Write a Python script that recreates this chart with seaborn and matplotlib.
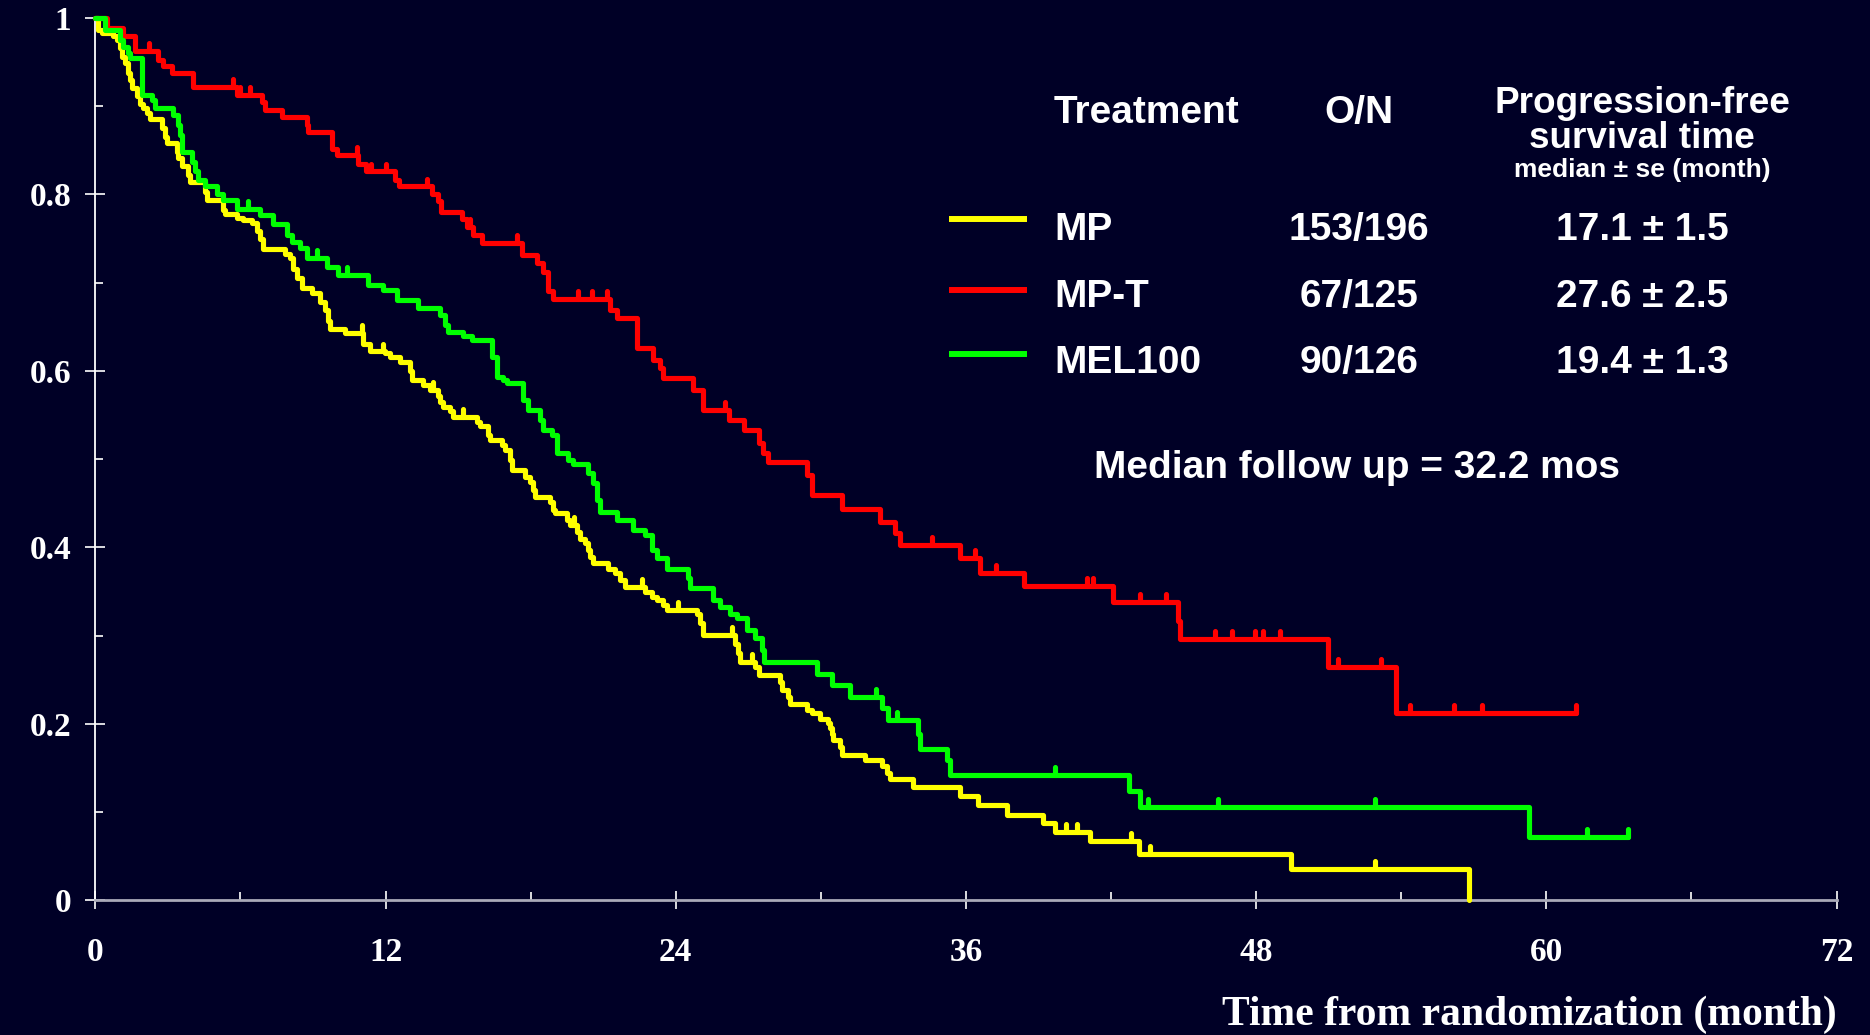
import numpy as np
import pandas as pd
import matplotlib
matplotlib.use("Agg")
import matplotlib.pyplot as plt
import seaborn as sns
from matplotlib.lines import Line2D
from matplotlib.ticker import MultipleLocator, FixedLocator, FixedFormatter

# ---- data -----------------------------------------------------------------
arms = ["MP", "MP-T", "MEL100"]
arm_colors = ["#ffff00", "#ff0000", "#00ff00"]
events_over_n = ["153/196", "67/125", "90/126"]
median_se = ["17.1 ± 1.5", "27.6 ± 2.5", "19.4 ± 1.3"]

# Kaplan-Meier steps: (month, survival after the step)
mp_steps = [
    (0, 1.0), (0.12, 0.986), (0.26, 0.983), (0.74, 0.979), (0.88, 0.975),
    (1.02, 0.966), (1.09, 0.956), (1.22, 0.949), (1.36, 0.937), (1.43, 0.930),
    (1.5, 0.920), (1.71, 0.911), (1.84, 0.903), (1.98, 0.898), (2.12, 0.892),
    (2.26, 0.885), (2.74, 0.875), (2.88, 0.865), (2.95, 0.858), (3.36, 0.848),
    (3.43, 0.841), (3.57, 0.832), (3.84, 0.822), (3.91, 0.814), (4.53, 0.803),
    (4.6, 0.794), (5.29, 0.782), (5.36, 0.778), (5.84, 0.773), (6.12, 0.771),
    (6.46, 0.768), (6.67, 0.758), (6.81, 0.750), (6.94, 0.738), (7.84, 0.733),
    (8.05, 0.728), (8.18, 0.716), (8.32, 0.705), (8.53, 0.694), (8.95, 0.688),
    (9.29, 0.678), (9.5, 0.669), (9.63, 0.656), (9.7, 0.648), (10.32, 0.643),
    (11.08, 0.631), (11.36, 0.622), (11.98, 0.620), (12.18, 0.616), (12.6, 0.610),
    (13.01, 0.600), (13.08, 0.590), (13.56, 0.584), (13.84, 0.578), (14.18, 0.572),
    (14.25, 0.565), (14.39, 0.559), (14.66, 0.554), (14.8, 0.548), (15.77, 0.542),
    (15.9, 0.537), (16.25, 0.527), (16.32, 0.522), (16.8, 0.516), (16.94, 0.510),
    (17.15, 0.499), (17.22, 0.488), (17.77, 0.480), (17.97, 0.474), (18.11, 0.465),
    (18.18, 0.457), (18.8, 0.452), (18.94, 0.442), (19.01, 0.439), (19.49, 0.431),
    (19.63, 0.425), (19.9, 0.418), (20.04, 0.410), (20.25, 0.405), (20.39, 0.397),
    (20.45, 0.389), (20.59, 0.382), (21.21, 0.376), (21.49, 0.371), (21.7, 0.363),
    (21.9, 0.355), (22.73, 0.350), (23.0, 0.344), (23.21, 0.340), (23.49, 0.335),
    (23.63, 0.329), (24.87, 0.325), (25.0, 0.314), (25.14, 0.301), (26.45, 0.291),
    (26.59, 0.280), (26.66, 0.270), (27.28, 0.265), (27.42, 0.255), (28.31, 0.248),
    (28.38, 0.238), (28.66, 0.231), (28.73, 0.223), (29.42, 0.216), (29.62, 0.212),
    (29.97, 0.206), (30.31, 0.201), (30.38, 0.195), (30.45, 0.189), (30.52, 0.182),
    (30.79, 0.174), (30.86, 0.165), (31.83, 0.159), (32.52, 0.152), (32.73, 0.144),
    (32.86, 0.138), (33.8, 0.128), (35.75, 0.118), (36.5, 0.108), (37.7, 0.097),
    (39.2, 0.088), (39.7, 0.078), (41.14, 0.067), (43.15, 0.053), (49.42, 0.036),
    (56.78, 0.0),
]
mpt_steps = [
    (0, 1.0), (0.5, 0.988), (1.15, 0.979), (1.64, 0.962), (2.6, 0.952),
    (2.81, 0.945), (3.15, 0.937), (4.05, 0.922), (5.84, 0.913), (6.88, 0.905),
    (7.01, 0.896), (7.7, 0.888), (8.74, 0.879), (8.8, 0.871), (9.77, 0.852),
    (10.0, 0.845), (10.85, 0.835), (11.2, 0.826), (12.39, 0.816), (12.55, 0.809),
    (13.9, 0.800), (14.18, 0.792), (14.3, 0.780), (15.15, 0.772), (15.35, 0.763),
    (15.6, 0.754), (15.97, 0.745), (17.63, 0.731), (18.25, 0.722), (18.52, 0.712),
    (18.73, 0.690), (18.94, 0.682), (21.28, 0.669), (21.56, 0.660), (22.39, 0.626),
    (23.07, 0.612), (23.35, 0.603), (23.49, 0.592), (24.73, 0.578), (25.14, 0.556),
    (26.18, 0.544), (26.8, 0.533), (27.42, 0.518), (27.62, 0.507), (27.8, 0.497),
    (29.42, 0.482), (29.62, 0.459), (30.86, 0.444), (32.45, 0.429), (33.07, 0.416),
    (33.28, 0.403), (35.76, 0.388), (36.58, 0.371), (38.38, 0.356), (42.09, 0.338),
    (44.78, 0.317), (44.86, 0.296), (50.96, 0.265), (53.8, 0.212), (61.24, 0.212),
]
mel_steps = [
    (0, 1.0), (0.4, 0.986), (1.02, 0.975), (1.15, 0.967), (1.36, 0.960),
    (1.43, 0.954), (1.91, 0.913), (2.33, 0.907), (2.47, 0.898), (3.22, 0.890),
    (3.43, 0.879), (3.5, 0.867), (3.57, 0.848), (3.98, 0.837), (4.12, 0.826),
    (4.26, 0.816), (4.53, 0.809), (5.02, 0.801), (5.29, 0.794), (5.84, 0.784),
    (6.81, 0.777), (7.36, 0.767), (7.91, 0.754), (8.12, 0.746), (8.46, 0.739),
    (8.74, 0.728), (9.57, 0.718), (10.05, 0.709), (11.29, 0.697), (11.91, 0.692),
    (12.46, 0.680), (13.36, 0.671), (14.25, 0.663), (14.46, 0.652), (14.6, 0.644),
    (15.21, 0.639), (15.56, 0.635), (16.39, 0.616), (16.6, 0.593), (16.87, 0.590),
    (17.01, 0.586), (17.7, 0.567), (17.9, 0.556), (18.39, 0.544), (18.52, 0.533),
    (18.87, 0.527), (19.08, 0.507), (19.56, 0.499), (19.76, 0.495), (20.38, 0.484),
    (20.59, 0.473), (20.73, 0.454), (20.87, 0.440), (21.56, 0.431), (22.25, 0.420),
    (22.73, 0.414), (23.0, 0.397), (23.21, 0.388), (23.63, 0.376), (24.52, 0.365),
    (24.59, 0.354), (25.55, 0.340), (25.83, 0.333), (26.25, 0.325), (26.52, 0.320),
    (26.94, 0.306), (27.28, 0.297), (27.56, 0.284), (27.63, 0.270), (29.83, 0.257),
    (30.45, 0.244), (31.21, 0.231), (32.52, 0.218), (32.79, 0.204), (34.03, 0.189),
    (34.1, 0.172), (35.21, 0.159), (35.34, 0.142), (42.73, 0.124), (43.2, 0.106),
    (59.27, 0.0715), (63.38, 0.0715),
]

# censored observations (month)
mp_censored = [11.01, 11.91, 13.95, 15.22, 19.77, 22.59, 24.11, 26.31, 27.14,
               40.14, 40.59, 42.83, 43.6, 52.93]
mpt_censored = [2.2, 5.7, 6.0, 6.4, 10.8, 11.4, 12.0, 13.7, 15.5, 17.42, 19.97,
                20.52, 21.15, 26.04, 34.59, 36.38, 37.25, 41.0, 41.27, 43.2,
                44.27, 46.3, 47.0, 47.94, 48.3, 48.99, 51.38, 53.18, 54.35,
                56.17, 57.32, 61.24]
mel_censored = [6.32, 9.15, 10.39, 32.28, 33.14, 39.66, 43.52, 46.41, 52.93,
                61.68, 63.38]

x_ticks = [0, 12, 24, 36, 48, 60, 72]
y_ticks = [0, 0.2, 0.4, 0.6, 0.8, 1.0]
y_tick_labels = ["0", "0.2", "0.4", "0.6", "0.8", "1"]

# ---- styling --------------------------------------------------------------
BG = "#000026"
W, H = 1870, 1035
SERIF = ["Liberation Serif", "DejaVu Serif"]
SANS = ["Liberation Sans", "DejaVu Sans"]

sns.set_style("dark")
plt.rcParams["font.family"] = SANS


def fx(px):
    return px / W


def fy(py):
    return 1 - py / H


step_sets = [mp_steps, mpt_steps, mel_steps]
censor_sets = [mp_censored, mpt_censored, mel_censored]

frames = []
for arm, steps in zip(arms, step_sets):
    frames.append(pd.DataFrame({"arm": arm,
                                "month": [p[0] for p in steps],
                                "surv": [p[1] for p in steps]}))
df = pd.concat(frames, ignore_index=True)

fig = plt.figure(figsize=(W / 100, H / 100), dpi=100, facecolor=BG)
ax = fig.add_axes([fx(95.4), 1 - 900.4 / H, fx(1836.6 - 95.4), 882.5 / H])
ax.set_facecolor(BG)

LW = 3.7
sns.lineplot(data=df, x="month", y="surv", hue="arm", hue_order=arms,
             palette=dict(zip(arms, arm_colors)), drawstyle="steps-post",
             estimator=None, linewidth=LW, legend=False, ax=ax, clip_on=False,
             zorder=3)

# censor marks: short vertical ticks sitting on each curve
for steps, cens, color in zip(step_sets, censor_sets, arm_colors):
    ts = np.array([p[0] for p in steps])
    ss = np.array([p[1] for p in steps])
    c = np.asarray(cens)
    idx = np.searchsorted(ts, c, side="right") - 1
    s_at = ss[idx]
    ax.vlines(c, s_at, s_at + 0.009, colors=color, linewidth=LW,
              capstyle="round", zorder=3, clip_on=False)

ax.set_xlim(0, 72)
ax.set_ylim(0, 1)
ax.set_xlabel("")
ax.set_ylabel("")
ax.grid(False)

ax.xaxis.set_major_locator(FixedLocator(x_ticks))
ax.xaxis.set_minor_locator(MultipleLocator(6))
ax.yaxis.set_major_locator(FixedLocator(y_ticks))
ax.yaxis.set_major_formatter(FixedFormatter(y_tick_labels))
ax.yaxis.set_minor_locator(MultipleLocator(0.1))

for side in ("top", "right"):
    ax.spines[side].set_visible(False)
ax.spines["left"].set_color("white")
ax.spines["left"].set_linewidth(1.3)
ax.spines["bottom"].set_color("#a9a9b8")
ax.spines["bottom"].set_linewidth(2.0)

ax.tick_params(which="both", bottom=True, left=True, top=False, right=False)
ax.tick_params(axis="x", which="major", direction="inout", length=12.5,
               width=1.2, color="white", pad=20, labelcolor="white")
ax.tick_params(axis="y", which="major", direction="inout", length=15,
               width=1.2, color="white", pad=10, labelcolor="white")
ax.tick_params(which="minor", direction="in", length=6, width=1.2,
               color="white")
for lab in ax.get_xticklabels() + ax.get_yticklabels():
    lab.set_family(SERIF)
    lab.set_fontweight("bold")
    lab.set_fontsize(24)

fig.text(fx(1837), fy(1025), "Time from randomization (month)", ha="right",
         va="baseline", fontsize=30, fontweight="bold", family=SERIF,
         color="white")

# ---- summary table / legend ----------------------------------------------
txt = dict(color="white", fontweight="bold", family=SANS, va="baseline")
fig.text(fx(1054), fy(123), "Treatment", ha="left", fontsize=28, **txt)
fig.text(fx(1359), fy(123), "O/N", ha="center", fontsize=28, **txt)
fig.text(fx(1642), fy(113), "Progression-free", ha="center", fontsize=26.6, **txt)
fig.text(fx(1642), fy(148), "survival time", ha="center", fontsize=26.6, **txt)
fig.text(fx(1642), fy(177), "median ± se (month)", ha="center", fontsize=19, **txt)

row_baselines = [240, 307, 373]
line_ys = [219, 290, 354]
for arm, color, on, med, yb, yl in zip(arms, arm_colors, events_over_n,
                                       median_se, row_baselines, line_ys):
    fig.add_artist(Line2D([fx(949), fx(1027)], [fy(yl), fy(yl)],
                          transform=fig.transFigure, color=color, lw=4.3,
                          solid_capstyle="butt"))
    fig.text(fx(1054), fy(yb), arm, ha="left", fontsize=28, **txt)
    fig.text(fx(1359), fy(yb), on, ha="center", fontsize=28, **txt)
    fig.text(fx(1642), fy(yb), med, ha="center", fontsize=28, **txt)

fig.text(fx(1357), fy(478), "Median follow up = 32.2 mos", ha="center",
         fontsize=28, **txt)

fig.savefig("out.png", dpi=100, facecolor=BG)
